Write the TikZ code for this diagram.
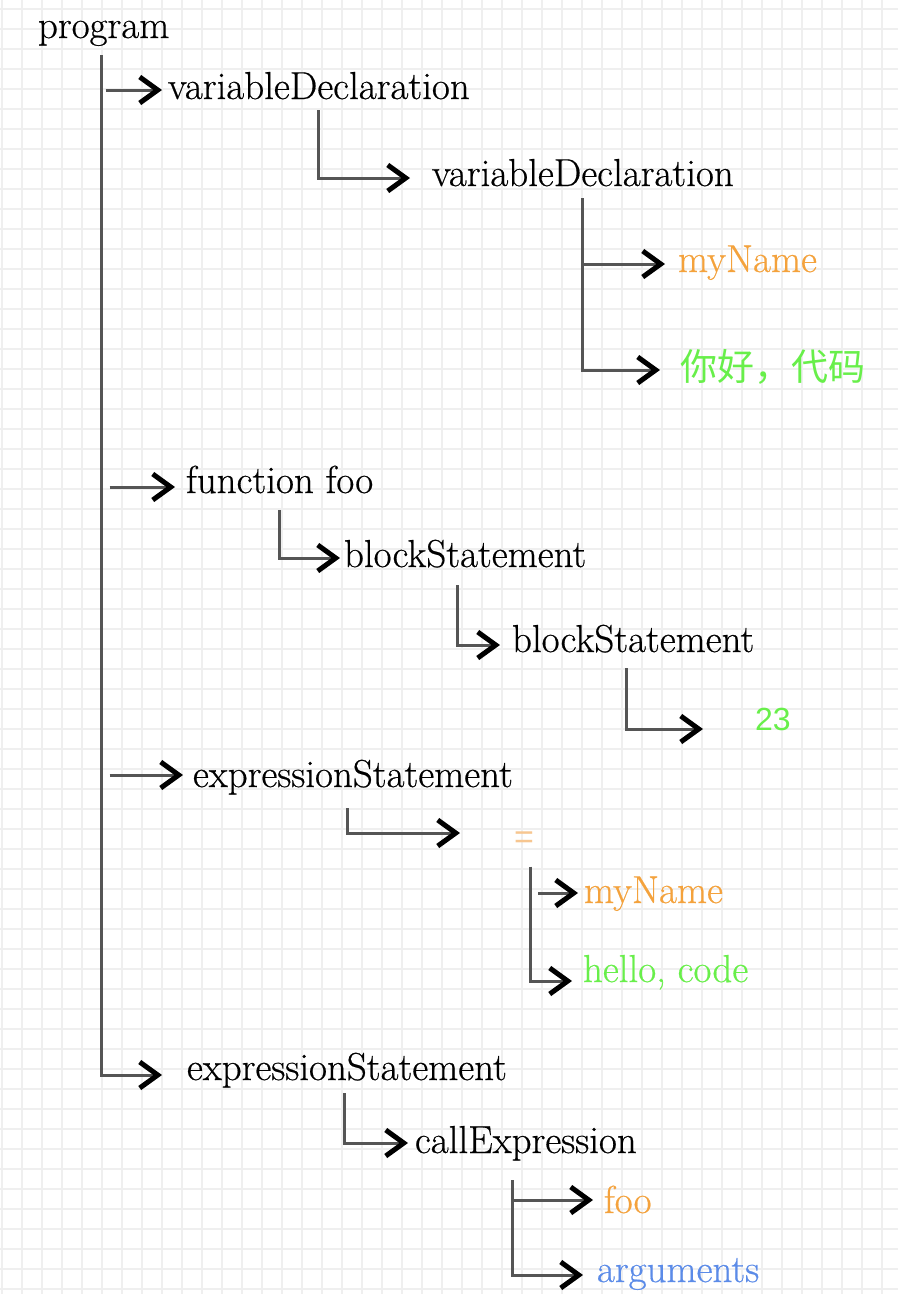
\documentclass[tikz,border=0pt]{standalone}
\usepackage{fontspec}
\setmainfont{Latin Modern Roman}[FakeBold=0.5]
\newfontfamily\cjk{Noto Sans CJK SC}
\newfontfamily\helv{Liberation Sans}
\usetikzlibrary{arrows.meta}
\definecolor{gridc}{HTML}{EFEFEF}
\definecolor{linec}{HTML}{555555}
\definecolor{orangeT}{HTML}{F4A23C}
\definecolor{greenT}{HTML}{68EF4A}
\definecolor{blueT}{HTML}{5B8BE8}
\definecolor{eqc}{HTML}{F7C690}
\tikzset{
  lbl/.style={inner sep=0pt, outer sep=0pt, anchor=base west, font=\fontsize{39}{44}\selectfont},
  conn/.style={draw=linec, line width=3pt, -{Straight Barb[black, line width=5pt, length=18pt, width=26pt]}}
}
\begin{document}
\begin{tikzpicture}[x=1pt,y=-1pt]
\useasboundingbox (0,0) rectangle (898,1294);
\fill[white] (0,0) rectangle (898,1294);
% grid
\foreach \gx in {2,22,...,898} \draw[gridc, line width=2pt] (\gx,0) -- (\gx,1294);
\foreach \gy in {9,29,...,1294} \draw[gridc, line width=2pt] (0,\gy) -- (898,\gy);

% nodes
\node[lbl] (program) at (38,38) {program};
\node[lbl] (vd1) at (168,99) {variableDeclaration};
\node[lbl] (vd2) at (432,186) {variableDeclaration};
\node[lbl, text=orangeT] (my1) at (678,272) {myName};
\node[lbl, text=greenT, font=\cjk\fontsize{37}{40}\selectfont] (nihao) at (680,380) {你好，代码};
\node[lbl] (ff) at (186,493) {function foo};
\node[lbl] (bs1) at (344,567) {blockStatement};
\node[lbl] (bs2) at (512,652) {blockStatement};
\node[lbl, text=greenT, font=\helv\fontsize{32}{36}\selectfont] (n23) at (755,730) {23};
\node[lbl] (es1) at (193,787) {expressionStatement};
\node[inner sep=0pt, text=eqc, font=\helv\fontsize{34}{36}\selectfont] (eq) at (524,840) {=};
\node[lbl, text=orangeT] (my2) at (584,903) {myName};
\node[lbl, text=greenT] (hello) at (583,982) {hello, code};
\node[lbl] (es2) at (187,1080) {expressionStatement};
\node[lbl] (call) at (415,1153) {callExpression};
\node[lbl, text=orangeT] (foo) at (604,1213) {foo};
\node[lbl, text=blueT] (args) at (597,1282) {arguments};

% arrow tips
\coordinate (tvd1) at (162,90);
\coordinate (tvd2) at (410,178);
\coordinate (tmy1) at (665,264);
\coordinate (tnh) at (660,370);
\coordinate (tff) at (175,487);
\coordinate (tbs1) at (340,558);
\coordinate (tbs2) at (500,645);
\coordinate (t23) at (703,729);
\coordinate (tes1) at (183,775);
\coordinate (teq) at (460,833);
\coordinate (tmy2) at (578,893);
\coordinate (thel) at (572,981);
\coordinate (tes2) at (162,1075);
\coordinate (tcall) at (408,1143);
\coordinate (tfoo) at (593,1200);
\coordinate (targs) at (583,1275);

% program trunk
\draw[conn] (program.base) ++(-2,17) coordinate (pt) |- (tes2);
\draw[conn] (pt |- tvd1) ++(4,0) -- (tvd1);
\draw[conn] (pt |- tff) ++(8,0) -- (tff);
\draw[conn] (pt |- tes1) ++(8,0) -- (tes1);

% variableDeclaration
\draw[conn] (vd1.base) ++(0,11) |- (tvd2);
\draw[conn] (vd2.base) ++(0,12) coordinate (v2) |- (tnh);
\draw[conn] (v2 |- tmy1) -- (tmy1);

% function foo
\draw[conn] (ff.base) ++(0,17) |- (tbs1);
\draw[conn] (bs1.base) ++(-8,18) |- (tbs2);
\draw[conn] (bs2.base) ++(-7,16) |- (t23);

% expressionStatement 1
\draw[conn] (es1.base) ++(-5,21) |- (teq);
\draw[conn] (eq.south) ++(6,18) coordinate (e2) |- (thel);
\draw[conn] (e2 |- tmy2) ++(8,0) -- (tmy2);

% expressionStatement 2
\draw[conn] (es2.base) ++(-2,13) |- (tcall);
\draw[conn] (call.base) ++(-13,27) coordinate (c2) |- (targs);
\draw[conn] (c2 |- tfoo) -- (tfoo);
\end{tikzpicture}
\end{document}
